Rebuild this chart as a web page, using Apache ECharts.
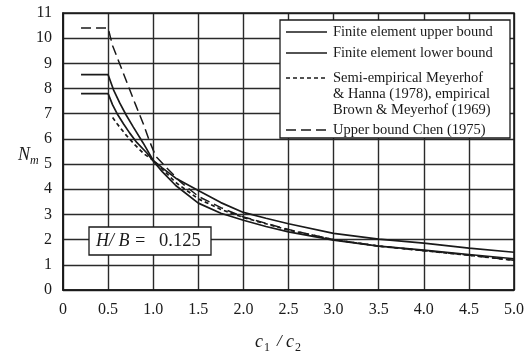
<!DOCTYPE html>
<html>
<head>
<meta charset="utf-8">
<script src="https://cdn.jsdelivr.net/npm/echarts@6/dist/echarts.min.js"></script>
<style>
html,body{margin:0;padding:0;background:#fff;}
#chart{width:528px;height:360px;}
</style>
</head>
<body>
<div id="chart"></div>
<script>
// ---- data ----
var seriesNames = ['Finite element upper bound', 'Finite element lower bound',
  'Semi-empirical Meyerhof\n& Hanna (1978), empirical\nBrown & Meyerhof (1969)', 'Upper bound Chen (1975)'];
var xTicks = ['0', '0.5', '1.0', '1.5', '2.0', '2.5', '3.0', '3.5', '4.0', '4.5', '5.0'];
var yTicks = ['0','1','2','3','4','5','6','7','8','9','10','11'];

var upperX = [0.2, 0.5, 0.56, 0.63, 0.7, 0.78, 0.89, 1.0, 1.1, 1.25, 1.5, 1.75, 2.0, 2.25, 2.5, 3.0, 3.5, 4.0, 4.5, 5.0];
var upperY = [8.55, 8.55, 7.95, 7.42, 6.95, 6.47, 5.83, 5.15, 4.85, 4.44, 3.95, 3.47, 3.08, 2.85, 2.63, 2.25, 2.02, 1.86, 1.66, 1.5];

var lowerX = [0.2, 0.5, 0.55, 0.6, 0.67, 0.74, 0.82, 0.93, 1.0, 1.1, 1.25, 1.5, 1.75, 2.0, 2.25, 2.5, 3.0, 3.5, 4.0, 4.5, 5.0];
var lowerY = [7.8, 7.8, 7.35, 7.0, 6.6, 6.23, 5.85, 5.44, 5.12, 4.7, 4.15, 3.45, 3.05, 2.77, 2.52, 2.31, 1.98, 1.74, 1.58, 1.41, 1.24];

var meyX = [0.55, 0.6, 0.7, 0.8, 0.9, 1.0, 1.1, 1.25, 1.5, 1.75, 2.0, 2.5, 3.0, 3.5, 4.0, 4.5, 5.0];
var meyY = [6.85, 6.6, 6.15, 5.75, 5.4, 5.15, 4.8, 4.27, 3.62, 3.2, 2.88, 2.38, 2.0, 1.74, 1.56, 1.38, 1.18];

var chenX = [0.2, 0.5, 0.55, 0.67, 0.8, 0.89, 0.96, 1.03, 1.15, 1.3, 1.5, 1.75, 2.0, 2.5, 3.0, 3.5, 4.0, 4.5, 5.0];
var chenY = [10.4, 10.4, 9.7, 8.6, 7.4, 6.6, 5.9, 5.3, 4.85, 4.3, 3.72, 3.27, 2.9, 2.4, 2.0, 1.75, 1.56, 1.38, 1.18];

var annotationText = ['H/ B =', '0.125'];

// ---- build ----
function zip(xs, ys) { return xs.map(function (x, i) { return [x, ys[i]]; }); }
var serif = '"Liberation Serif","DejaVu Serif",serif';
var ink = '#1a1a1a';
var styles = [
  {type: 'solid', width: 1.7},
  {type: 'solid', width: 1.7},
  {type: [4, 3], width: 1.7},
  {type: [10, 5], width: 1.5}
];
var datasets = [zip(upperX, upperY), zip(lowerX, lowerY), zip(meyX, meyY), zip(chenX, chenY)];

var series = datasets.map(function (d, i) {
  return {
    name: seriesNames[i], type: 'line', data: d, showSymbol: false, symbol: 'none',
    smooth: false, silent: true, animation: false, z: 3,
    lineStyle: {color: ink, width: styles[i].width, type: styles[i].type}
  };
});

// legend as graphic
var lgX = 280, lgY = 20, LZ = 100;
var rowY = [12, 33, 58, 110];
var legendEls = [{
  type: 'rect', z: LZ, shape: {x: 0, y: 0, width: 230, height: 118},
  style: {fill: '#fff', stroke: ink, lineWidth: 1.3}
}];
seriesNames.forEach(function (n, i) {
  legendEls.push({
    type: 'line', z: LZ + 1, shape: {x1: 6, y1: rowY[i], x2: 47, y2: rowY[i]},
    style: {stroke: ink, lineWidth: styles[i].width, lineDash: styles[i].type === 'solid' ? null : styles[i].type}
  });
  legendEls.push({
    type: 'text', z: LZ + 1, x: 53, y: rowY[i] - 8,
    style: {text: n, font: '14.5px ' + serif, fill: ink, lineHeight: 16, textVerticalAlign: 'top'}
  });
});

var chart = echarts.init(document.getElementById('chart'), null, {renderer: 'canvas'});
chart.setOption({
  backgroundColor: '#fff',
  animation: false,
  grid: {left: 63, right: 14, top: 13, bottom: 70, containLabel: false},
  xAxis: {
    type: 'value', min: 0, max: 5, interval: 0.5,
    axisLine: {show: true, lineStyle: {color: ink, width: 1.6}},
    axisTick: {show: false},
    axisLabel: {formatter: function (v) { return xTicks[Math.round(v * 2)]; }, color: ink,
      fontFamily: serif, fontSize: 16, margin: 12},
    splitLine: {show: true, lineStyle: {color: '#2a2a2a', width: 1.4}}
  },
  yAxis: {
    type: 'value', min: 0, max: 11, interval: 1,
    axisLine: {show: true, lineStyle: {color: ink, width: 1.6}},
    axisTick: {show: false},
    axisLabel: {formatter: function (v) { return yTicks[Math.round(v)]; }, color: ink,
      fontFamily: serif, fontSize: 16, margin: 11},
    splitLine: {show: true, lineStyle: {color: '#2a2a2a', width: 1.4}}
  },
  series: series,
  graphic: [
    {type: 'rect', z: 1, shape: {x: 63, y: 13, width: 451, height: 277}, style: {fill: 'none', stroke: ink, lineWidth: 1.6}},
    {type: 'group', x: lgX, y: lgY, z: LZ, children: legendEls},
    {type: 'group', x: 89, y: 227, z: LZ, children: [
      {type: 'rect', z: LZ, shape: {x: 0, y: 0, width: 122, height: 28}, style: {fill: '#fff', stroke: ink, lineWidth: 1.3}},
      {type: 'text', z: LZ + 1, x: 7, y: 14, style: {text: annotationText[0], font: 'italic 18px ' + serif, fill: ink, textVerticalAlign: 'middle'}},
      {type: 'text', z: LZ + 1, x: 70, y: 14, style: {text: annotationText[1], font: '18.5px ' + serif, fill: ink, textVerticalAlign: 'middle'}}
    ]},
    {type: 'text', x: 18, y: 155, style: {text: 'N', font: 'italic 18px ' + serif, fill: ink, textVerticalAlign: 'middle'}},
    {type: 'text', x: 30, y: 161, style: {text: 'm', font: 'italic 12px ' + serif, fill: ink, textVerticalAlign: 'middle'}},
    {type: 'text', x: 255, y: 342, style: {text: 'c', font: 'italic 18px ' + serif, fill: ink, textVerticalAlign: 'middle'}},
    {type: 'text', x: 264, y: 348, style: {text: '1', font: '12px ' + serif, fill: ink, textVerticalAlign: 'middle'}},
    {type: 'text', x: 277, y: 342, style: {text: '/', font: 'italic 17px ' + serif, fill: ink, textVerticalAlign: 'middle'}},
    {type: 'text', x: 286, y: 342, style: {text: 'c', font: 'italic 18px ' + serif, fill: ink, textVerticalAlign: 'middle'}},
    {type: 'text', x: 295, y: 348, style: {text: '2', font: '12px ' + serif, fill: ink, textVerticalAlign: 'middle'}}
  ]
});
</script>
</body>
</html>
